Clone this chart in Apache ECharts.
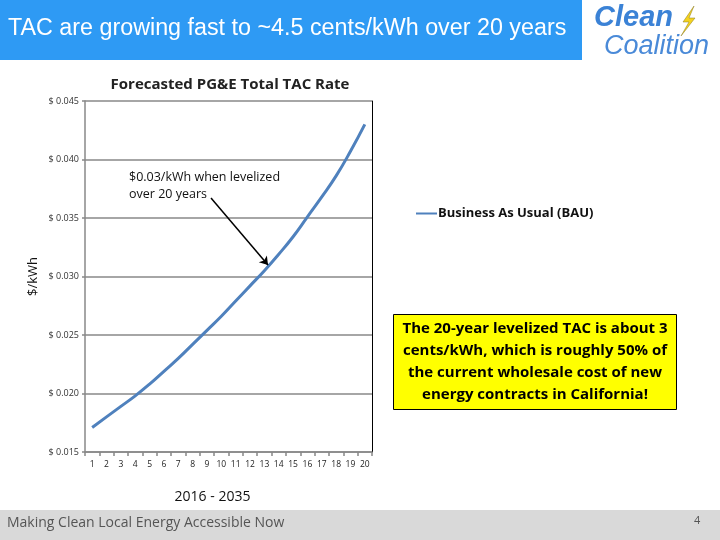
<!DOCTYPE html>
<html>
<head>
<meta charset="utf-8">
<title>Forecasted PG&E Total TAC Rate</title>
<script src="https://cdn.jsdelivr.net/npm/echarts@6/dist/echarts.min.js"></script>
<style>
  html, body { margin: 0; padding: 0; background: #fff; }
  #chart { width: 720px; height: 540px; }
</style>
</head>
<body>
<div id="chart"></div>
<script>
// year index 1..20 (2016 - 2035)
const years = ['1', '2', '3', '4', '5', '6', '7', '8', '9', '10',
  '11', '12', '13', '14', '15', '16', '17', '18', '19', '20']
// $/kWh
const bauRate = [0.0171, 0.0180, 0.0189, 0.0198, 0.0208, 0.0219, 0.0230, 0.0242, 0.0254, 0.0266,
  0.0279, 0.0292, 0.0305, 0.0319, 0.0334, 0.0351, 0.0368, 0.0386, 0.0407, 0.0430]
const seriesName = 'Business As Usual (BAU)'
const boxLines = [
  'The 20-year levelized TAC is about 3',
  'cents/kWh, which is roughly 50% of',
  'the current wholesale cost of new',
  'energy contracts in California!'
]

const chart = echarts.init(document.getElementById('chart'))

chart.setOption({
  backgroundColor: '#fff',
  animation: false,
  title: {
    text: 'Forecasted PG&E Total TAC Rate',
    left: 225,
    textAlign: 'center',
    top: 72,
    textStyle: { fontFamily: 'Open Sans', fontSize: 15, fontWeight: 'bold', color: '#222' }
  },
  legend: {
    left: 411,
    top: 202,
    itemWidth: 21,
    itemHeight: 2,
    itemGap: 4,
    data: [{ name: seriesName, icon: 'rect' }],
    textStyle: { fontFamily: 'Open Sans', fontSize: 13, fontWeight: 'bold', color: '#111', padding: [0, 0, 0, -4] }
  },
  grid: {
    left: 85,
    right: 348,
    top: 101,
    bottom: 88
  },
  xAxis: {
    type: 'category',
    data: years,
    boundaryGap: true,
    name: '2016 - 2035',
    nameLocation: 'middle',
    nameGap: 38,
    nameTextStyle: { fontFamily: 'Open Sans', fontSize: 14, color: '#111', padding: [0, 32, 0, 0] },
    axisLine: { lineStyle: { color: '#888', width: 1.5 } },
    axisTick: { show: true, length: 4, lineStyle: { color: '#888', width: 1.5 } },
    axisLabel: { fontFamily: 'Open Sans', fontSize: 8.5, color: '#222', margin: 8 }
  },
  yAxis: [{
    type: 'value',
    min: 0.015,
    max: 0.045,
    interval: 0.005,
    name: '$/kWh',
    nameLocation: 'middle',
    nameGap: 45,
    nameTextStyle: { fontFamily: 'Open Sans', fontSize: 13, color: '#111' },
    axisLine: { show: true, lineStyle: { color: '#888', width: 1.5 } },
    axisTick: { show: true, length: 3, lineStyle: { color: '#888', width: 1.5 } },
    axisLabel: {
      fontFamily: 'Open Sans',
      fontSize: 9,
      color: '#333',
      margin: 6,
      formatter: v => '$ ' + v.toFixed(3)
    },
    splitLine: { lineStyle: { color: '#888', width: 1.5 } }
  }, {
    type: 'value',
    position: 'right',
    min: 0.015,
    max: 0.045,
    axisLine: { show: true, lineStyle: { color: '#000', width: 1 } },
    axisTick: { show: false },
    axisLabel: { show: false },
    splitLine: { show: false }
  }],
  series: [{
    name: seriesName,
    type: 'line',
    data: bauRate,
    smooth: true,
    showSymbol: false,
    lineStyle: { color: '#4f81bd', width: 3 },
    itemStyle: { color: '#4f81bd' },
    markLine: {
      silent: true,
      symbol: ['none', 'arrow'],
      symbolSize: 8,
      label: { show: false },
      lineStyle: { color: '#000', width: 1.5, type: 'solid' },
      data: [[{ x: 211, y: 198 }, { x: 268, y: 265 }]]
    }
  }],
  graphic: [
    // title bar
    { type: 'rect', left: 0, top: 0, shape: { width: 582, height: 60 }, style: { fill: '#2e9af4' } },
    {
      type: 'text', left: 8, top: 17,
      style: { text: 'TAC are growing fast to ~4.5 cents/kWh over 20 years', fill: '#fff', font: '23.3px "Liberation Sans"' }
    },
    // logo
    {
      type: 'text', left: 594, top: 3,
      style: { text: 'Clean', fill: '#3b82d6', font: 'italic bold 29px "Liberation Sans"' }
    },
    {
      type: 'polygon',
      shape: { points: [[694, 6], [683, 22], [689, 22], [681, 36], [695, 18], [689, 18]] },
      style: { fill: '#f4d21f', stroke: '#8a7a20', lineWidth: 0.5 }
    },
    {
      type: 'text', left: 604, top: 33,
      style: { text: 'Coalition', fill: '#4a8ad8', font: 'italic 27px "Liberation Sans"' }
    },
    // annotation
    {
      type: 'text', left: 129, top: 169,
      style: { text: '$0.03/kWh when levelized\nover 20 years', fill: '#111', font: '12.5px "Open Sans"', lineHeight: 17 }
    },
    // yellow note
    {
      type: 'rect', left: 393, top: 314,
      shape: { width: 283, height: 95 },
      style: { fill: '#ffff00', stroke: '#000', lineWidth: 1 }
    },
    {
      type: 'text', x: 535, y: 318,
      style: {
        text: boxLines.join('\n'),
        align: 'center',
        verticalAlign: 'top',
        fill: '#000',
        font: 'bold 15px "Open Sans"',
        lineHeight: 21.8
      }
    },
    // footer
    { type: 'rect', left: 0, top: 510, shape: { width: 720, height: 30 }, style: { fill: '#d9d9d9' } },
    {
      type: 'text', left: 7, top: 516,
      style: { text: 'Making Clean Local Energy Accessible Now', fill: '#555', font: '14px "Open Sans"' }
    },
    {
      type: 'text', left: 694, top: 515,
      style: { text: '4', fill: '#555', font: '11px "Open Sans"' }
    }
  ]
})
</script>
</body>
</html>
